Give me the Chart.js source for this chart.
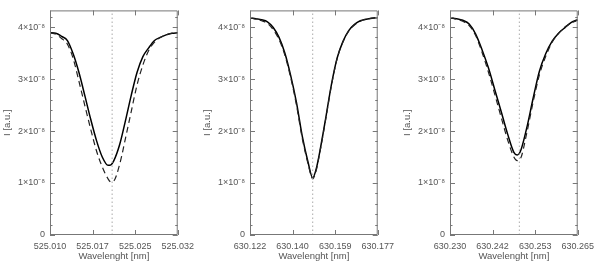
<!DOCTYPE html>
<html>
<head>
<meta charset="utf-8">
<script src="https://cdn.jsdelivr.net/npm/chart.js@4.4.0/dist/chart.umd.min.js"></script>
<style>
  html, body { margin: 0; padding: 0; background: #fff; }
  #wrap { display: flex; width: 600px; height: 263px; }
  canvas { display: block; }
</style>
</head>
<body>
<div id="wrap">
  <canvas id="c1" width="200" height="263"></canvas>
  <canvas id="c2" width="200" height="263"></canvas>
  <canvas id="c3" width="200" height="263"></canvas>
</div>
<script>
// intensities are in units of 1e-8 (a.u.)

// panel 1 - 525.02 nm line
let wave1 = [525.010, 525.011, 525.012, 525.013, 525.014, 525.015, 525.016, 525.017, 525.018, 525.019,
             525.020, 525.0205, 525.021, 525.022, 525.023, 525.024, 525.025, 525.026, 525.027, 525.028,
             525.029, 525.030, 525.031, 525.032];
let solid1 = [3.89, 3.88, 3.82, 3.74, 3.48, 3.12, 2.68, 2.23, 1.82, 1.50,
              1.34, 1.35, 1.43, 1.74, 2.20, 2.69, 3.13, 3.43, 3.60, 3.74,
              3.80, 3.85, 3.88, 3.89];
let dashed1 = [3.89, 3.86, 3.78, 3.67, 3.39, 2.95, 2.49, 2.04, 1.62, 1.31,
               1.08, 1.02, 1.04, 1.36, 1.86, 2.38, 2.89, 3.27, 3.55, 3.71,
               3.80, 3.85, 3.88, 3.89];

// panel 2 - 630.15 nm line
let wave2 = [630.1220, 630.1245, 630.1270, 630.1295, 630.1320, 630.1345, 630.1370, 630.1395, 630.1420, 630.1445,
             630.1470, 630.1490, 630.1505, 630.1520, 630.1545, 630.1570, 630.1595, 630.1620, 630.1645, 630.1670,
             630.1695, 630.1720, 630.1745, 630.1770];
let solid2 = [4.18, 4.16, 4.14, 4.10, 3.99, 3.80, 3.50, 3.07, 2.55, 1.90,
              1.40, 1.10, 1.27, 1.59, 2.22, 2.88, 3.40, 3.72, 3.93, 4.05,
              4.12, 4.15, 4.17, 4.18];
let dashed2 = [4.18, 4.15, 4.12, 4.07, 3.95, 3.76, 3.46, 3.03, 2.50, 1.86,
               1.37, 1.08, 1.24, 1.57, 2.20, 2.86, 3.39, 3.71, 3.92, 4.04,
               4.11, 4.15, 4.17, 4.18];

// panel 3 - 630.25 nm line
let wave3 = [630.23000, 630.23175, 630.23350, 630.23525, 630.23700, 630.23875, 630.24050, 630.24225, 630.24400, 630.24575,
             630.24750, 630.24840, 630.24925, 630.25100, 630.25275, 630.25450, 630.25625, 630.25800, 630.25975, 630.26150,
             630.26325, 630.26500];
let solid3 = [4.18, 4.16, 4.13, 4.06, 3.87, 3.57, 3.22, 2.80, 2.38, 1.95,
              1.59, 1.54, 1.60, 2.05, 2.62, 3.15, 3.49, 3.73, 3.88, 3.99,
              4.09, 4.14];
let dashed3 = [4.18, 4.15, 4.11, 4.03, 3.84, 3.52, 3.14, 2.71, 2.27, 1.84,
               1.50, 1.43, 1.46, 1.95, 2.55, 3.08, 3.44, 3.71, 3.88, 4.00,
               4.08, 4.13];

// rest wavelength marks (dotted)
let lineCenters = [525.0207, 630.1490, 630.2490];

// x tick values and their printed labels
let xTicks1 = [525.010, 525.01733, 525.02467, 525.032];
let xLabels1 = ['525.010', '525.017', '525.025', '525.032'];
let xTicks2 = [630.122, 630.14033, 630.15867, 630.177];
let xLabels2 = ['630.122', '630.140', '630.159', '630.177'];
let xTicks3 = [630.230, 630.24167, 630.25333, 630.265];
let xLabels3 = ['630.230', '630.242', '630.253', '630.265'];

let yTicks = [0, 1, 2, 3, 4];
let yLabels = ['0', '1×10⁻⁸', '2×10⁻⁸', '3×10⁻⁸', '4×10⁻⁸'];
let yMax = 4.32;

Chart.defaults.font.family = "'Liberation Sans', Arial, sans-serif";
Chart.defaults.font.size = 9;
Chart.defaults.color = '#555';

// box round the plot with inward ticks, IDL style
let frameTicks = {
    id: 'frameTicks',
    afterDraw(chart) {
        let ctx = chart.ctx;
        let a = chart.chartArea;
        let xs = chart.scales.x;
        let ys = chart.scales.y;
        ctx.save();
        ctx.strokeStyle = '#777';
        ctx.lineWidth = 1;
        ctx.beginPath();
        ctx.rect(a.left + 0.5, a.top + 0.5, a.right - a.left - 1, a.bottom - a.top - 1);
        for (let i = 0; i * 0.2 <= yMax; i++) {
            let len = (i % 5 === 0) ? 5 : 2.5;
            let py = Math.round(ys.getPixelForValue(i * 0.2)) + 0.5;
            ctx.moveTo(a.left, py);
            ctx.lineTo(a.left + len, py);
            ctx.moveTo(a.right, py);
            ctx.lineTo(a.right - len, py);
        }
        xs.ticks.forEach(t => {
            let px = Math.round(xs.getPixelForValue(t.value)) + 0.5;
            ctx.moveTo(px, a.bottom);
            ctx.lineTo(px, a.bottom - 5);
            ctx.moveTo(px, a.top);
            ctx.lineTo(px, a.top + 5);
        });
        ctx.stroke();
        ctx.restore();
    }
};

function toPoints(wave, vals) {
    return wave.map((w, i) => ({ x: w, y: vals[i] }));
}

function drawPanel(id, wave, solid, dashed, center, xTicks, xLabels, rightPad) {
    let ctx = document.getElementById(id);
    return new Chart(ctx, {
        type: 'line',
        data: {
            datasets: [
                {
                    data: [{ x: center, y: 0 }, { x: center, y: yMax }],
                    borderColor: '#aaa',
                    borderWidth: 1,
                    borderDash: [1.5, 2.5],
                    pointRadius: 0
                },
                {
                    data: toPoints(wave, dashed),
                    borderColor: '#222',
                    borderWidth: 1.2,
                    borderDash: [6, 4],
                    pointRadius: 0,
                    cubicInterpolationMode: 'monotone'
                },
                {
                    data: toPoints(wave, solid),
                    borderColor: '#000',
                    borderWidth: 1.5,
                    pointRadius: 0,
                    cubicInterpolationMode: 'monotone'
                }
            ]
        },
        options: {
            responsive: false,
            animation: false,
            devicePixelRatio: 1,
            layout: { padding: { left: 0, top: 3, right: rightPad, bottom: 0 } },
            plugins: { legend: { display: false }, tooltip: { enabled: false } },
            scales: {
                x: {
                    type: 'linear',
                    min: xTicks[0],
                    max: xTicks[xTicks.length - 1],
                    grid: { display: false, drawTicks: false },
                    border: { display: false },
                    afterBuildTicks: s => { s.ticks = xTicks.map(v => ({ value: v })); },
                    afterFit: s => { s.height = 28; },
                    ticks: { autoSkip: false, maxRotation: 0, padding: 6, callback: (v, i) => xLabels[i] },
                    title: { display: true, text: 'Wavelenght [nm]', font: { size: 9.5 }, padding: { top: 0, bottom: 1 } }
                },
                y: {
                    min: 0,
                    max: yMax,
                    grid: { display: false, drawTicks: false },
                    border: { display: false },
                    afterBuildTicks: s => { s.ticks = yTicks.map(v => ({ value: v })); },
                    afterFit: s => { s.width = 50; },
                    ticks: { padding: 5, callback: (v, i) => yLabels[i] },
                    title: { display: true, text: 'I [a.u.]', font: { size: 9.5 }, padding: { top: 2, bottom: 0 } }
                }
            }
        },
        plugins: [frameTicks]
    });
}

drawPanel('c1', wave1, solid1, dashed1, lineCenters[0], xTicks1, xLabels1, 18);
drawPanel('c2', wave2, solid2, dashed2, lineCenters[1], xTicks2, xLabels2, 18);
drawPanel('c3', wave3, solid3, dashed3, lineCenters[2], xTicks3, xLabels3, 19);
</script>
</body>
</html>
